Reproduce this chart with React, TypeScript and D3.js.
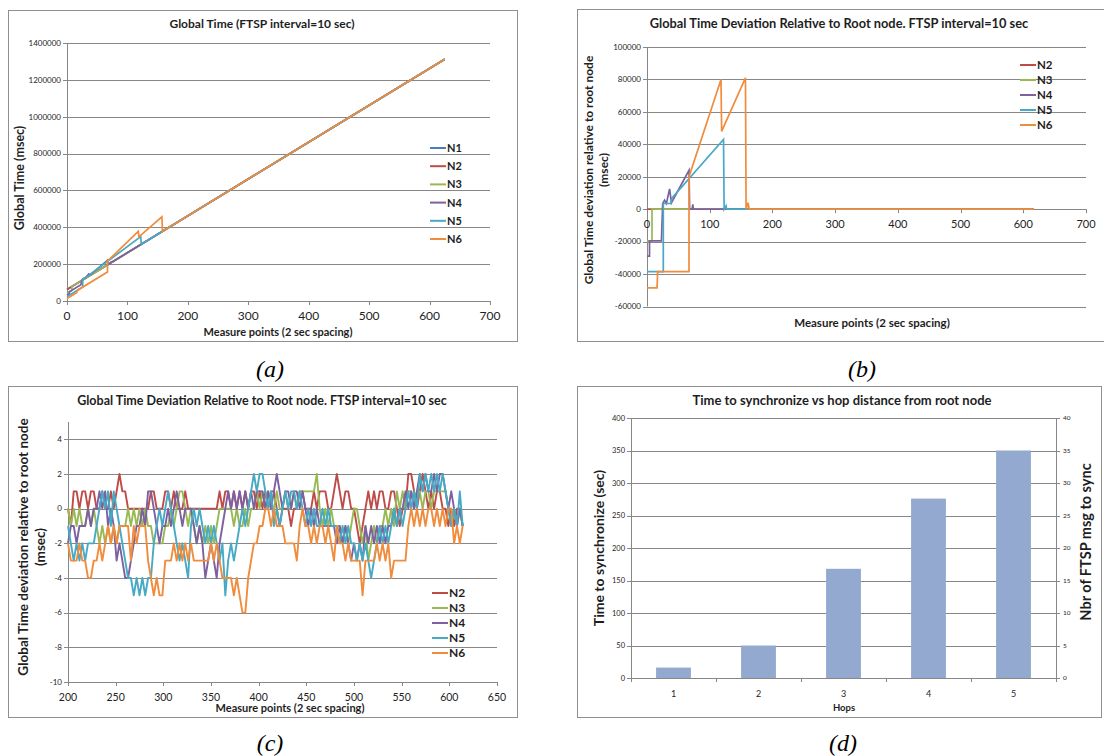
import * as d3 from 'd3'
import React from 'react'

type P = [number, number]

const FONT = 'Lato, "Open Sans", Arial, sans-serif'
const SERIF = '"Liberation Serif", "DejaVu Serif", serif'
const GRID = '#878787'
const BORDER = '#8f8f8f'
const TXT = '#1e1e1e'

const colors: Record<string, string> = {
  N1: '#4A7EBB', N2: '#BE4B48', N3: '#98B954', N4: '#7D60A0', N5: '#46AAC5', N6: '#F08C3C',
}

// (a) global time, [measure point, msec] break points
const gtN1: P[] = [[0, 62000], [625, 1312000]]
const gtN2: P[] = [[0, 62000], [625, 1312000]]
const gtN3: P[] = [[0, 42500], [8, 58500], [8, 78000], [625, 1312000]]
const gtN4: P[] = [[0, 33000], [4, 41000], [4, 50500], [23, 88500], [25, 115500], [28, 123500], [31, 127500], [36, 146500], [39, 144000], [67, 220000], [68, 198000], [72, 206000], [73, 211000], [74, 210000], [625, 1312000]]
const gtN5: P[] = [[0, 23500], [26, 75500], [26, 117500], [38, 141500], [40, 149000], [122, 349000], [123, 308000], [126, 316000], [127, 316000], [625, 1312000]]
const gtN6: P[] = [[0, 13500], [16, 45500], [17, 57500], [67, 157500], [67, 216000], [118, 378000], [119, 348000], [157, 457000], [158, 378000], [161, 388000], [163, 388000], [625, 1312000]]

// (b) deviation to root, [measure point, msec]
const devN2: P[] = [[0, 0], [617, 0]]
const devN3: P[] = [[0, -19500], [8, -19500], [8, 0], [617, 0]]
const devN4: P[] = [[0, -29000], [4, -29000], [4, -19500], [23, -19500], [25, 3500], [28, 5500], [31, 3500], [36, 12500], [39, 4000], [67, 24000], [68, 0], [72, 0], [73, 3000], [74, 0], [617, 0]]
const devN5: P[] = [[0, -38500], [26, -38500], [26, 3500], [38, 3500], [40, 7000], [122, 43000], [123, 0], [126, 2000], [127, 0], [617, 0]]
const devN6: P[] = [[0, -48500], [16, -48500], [17, -38500], [67, -38500], [67, 20000], [118, 80000], [119, 48000], [157, 81000], [158, 0], [161, 4000], [163, 0], [617, 0]]

// (c) deviation (msec) sampled every 3 measure points from 200
const cStart = 200
const cStep = 3
const cN2 = [
  0, -1, 1, 1, 0, 1, 1, 0, 1, 1,
  0, 0, 1, 0, 0, 1, 0, 1, 2, 1,
  1, 0, 0, 0, 0, 0, 0, 0, 0, 1,
  1, 0, 0, 0, 1, 1, 0, 1, 0, 0,
  0, 1, 0, 0, 0, 0, 0, 0, 0, 0,
  0, 0, 0, 1, 0, 1, 1, 0, 1, 0,
  1, 0, 1, 0, 1, 1, 0, 1, 0, 1,
  0, 1, 1, 0, -1, 0, 0, 0, -1, 0,
  0, 1, 1, 0, 0, 0, 1, 0, 1, 1,
  1, 0, 0, 1, 2, 1, 0, 1, 1, 0,
  0, -1, -2, -1, 0, 1, 0, 1, 0, 1,
  1, 0, 0, 1, 1, 0, -1, 0, 0, 2,
  2, 1, 0, 1, 2, 1, 0, 1, 0, 1,
  1, 0, 0, -1, 0, -1, 0, 0, -1]
const cN3 = [
  0, -1, 0, -1, 0, -1, -1, 0, -1, 0,
  -1, -2, -1, -2, -1, -2, -1, -2, -1, -1,
  -1, 0, -1, 0, -1, 0, -1, 0, -1, -1,
  -2, -2, -2, -2, -1, -1, 0, -1, 0, 1,
  1, 0, -1, 0, -1, -2, -1, -2, -1, -2,
  -1, -2, -1, 0, 0, 0, 0, 0, -1, 0,
  -1, -1, 0, -1, 0, 0, 1, 0, 1, 0,
  1, 0, 0, 1, 0, 0, 1, 0, 0, 1,
  0, 1, 1, 1, 1, 1, 1, 2, 0, -1,
  0, -1, 0, -1, -1, -1, -2, -1, -2, -1,
  0, 0, -1, -2, -1, -3, -2, -1, -2, -1,
  -1, 0, -1, 0, -1, 1, 0, 1, 0, 1,
  1, 0, 1, 1, 0, 1, 1, 0, 1, 1,
  1, 1, 1, 0, -1, 0, -1, 0, -1]
const cN4 = [
  -2, -1, -1, -2, -1, -1, -1, 0, -1, 0,
  0, 1, 0, 1, -1, 0, -1, -3, -2, -3,
  -4, -4, -3, -2, -1, -1, 0, -1, 1, 1,
  0, -1, -2, -1, -1, 0, -1, 0, 1, 0,
  -1, 0, 0, 0, -1, -2, -1, -2, -4, -3,
  -2, -3, -4, -2, -1, 0, 1, 0, 1, 0,
  1, 0, 1, 0, 1, 0, 1, 1, 1, 0,
  1, 0, 1, 2, 1, 0, 1, 1, 0, 1,
  1, 0, 1, 0, -1, 0, -1, 0, -1, -1,
  -1, -1, -1, -1, -2, -1, -2, -1, -2, -3,
  -2, -3, -2, -3, -1, -2, -1, -2, -1, -2,
  -1, -2, -1, -1, 0, -1, 0, 0, 1, 0,
  1, 0, 1, 2, 1, 2, 1, 1, 2, 1,
  2, 2, 1, 0, 1, 0, -1, 0, -1]
const cN5 = [
  -1, -2, -3, -2, -3, -2, -3, -2, -2, -2,
  -1, 0, 1, 0, 1, -1, 1, 0, -1, -2,
  -3, -4, -4, -5, -4, -5, -4, -5, -4, -4,
  -2, -1, 0, -1, 0, 1, 0, -1, -2, -3,
  -2, -3, -4, -1, 0, -1, 0, -1, -2, -1,
  -2, -1, -2, -3, -2, -5, -3, -2, -3, -2,
  -1, 0, -1, 0, 1, 2, 1, 2, 2, 1,
  0, 1, -1, 0, -1, 0, 1, 0, 1, 1,
  0, 1, 0, -1, 0, -1, 0, -1, -1, 0,
  -1, 0, -1, -1, -1, -2, -1, -2, -1, -2,
  -2, -3, -2, -3, -2, -3, -4, -3, -2, -1,
  -2, -1, -2, -1, 0, -1, 0, -1, 0, 1,
  0, 1, 0, 2, 1, 2, 1, 2, 1, 2,
  1, 2, 1, 0, -1, 0, -1, 1, -1]
const cN6 = [
  -2, -3, -3, -3, -2, -3, -3, -4, -4, -3,
  -3, -2, -3, -2, -1, -2, -1, -2, -1, -1,
  -1, -1, -3, -1, -2, -1, -1, -1, -3, -4,
  -5, -4, -5, -5, -3, -3, -3, -2, -3, -2,
  -3, -2, -3, -2, -3, -3, -3, -3, -3, -3,
  -2, -3, -2, -3, -4, -4, -4, -4, -5, -4,
  -5, -6, -6, -4, -3, -2, -2, -1, -1, 0,
  0, -1, 0, -1, -1, -1, -2, -2, -2, -2,
  -3, -1, 0, -1, -1, -2, -1, -2, -1, -1,
  -2, -1, -2, -3, -1, -2, -2, -3, -2, -3,
  -3, -3, -3, -5, -3, -3, -3, -3, -2, -3,
  -2, -3, -2, -4, -3, -3, -3, -3, -3, -1,
  0, -1, 0, -1, 0, -1, 0, 0, -1, 0,
  -1, 0, -1, 0, 0, -2, -1, -2, -1]

// (d)
const hops = ['1', '2', '3', '4', '5']
const syncTime = [16, 50, 168, 276, 350]

const ticksAX = [0, 100, 200, 300, 400, 500, 600, 700]
const ticksAY = [0, 200000, 400000, 600000, 800000, 1000000, 1200000, 1400000]
const ticksBY = [-60000, -40000, -20000, 0, 20000, 40000, 60000, 80000, 100000]
const ticksCX = [200, 250, 300, 350, 400, 450, 500, 550, 600, 650]
const ticksCY = [-10, -8, -6, -4, -2, 0, 2, 4]
const ticksDL = [0, 50, 100, 150, 200, 250, 300, 350, 400]
const ticksDR = [0, 5, 10, 15, 20, 25, 30, 35, 40]

const c = (v: number) => Math.round(v) + 0.5

const Legend = ({ x, y, dy, names, size }: { x: number, y: number, dy: number, names: string[], size: number }) => (
  <g>
    {names.map((n, i) => (
      <g key={n}>
        <line x1={x} x2={x + 16} y1={y + i * dy} y2={y + i * dy} stroke={colors[n]} strokeWidth={2} />
        <text x={x + 17} y={y + i * dy} dy='0.36em' fontSize={size} fontWeight='bold' fill={TXT}>{n}</text>
      </g>
    ))}
  </g>
)

const PanelA = () => {
  const x = d3.scaleLinear().domain([0, 700]).range([67, 490])
  const y = d3.scaleLinear().domain([0, 1400000]).range([301, 43])
  const ln = d3.line<P>().x(d => x(d[0])).y(d => y(d[1]))
  const series: [string, P[]][] = [['N1', gtN1], ['N2', gtN2], ['N3', gtN3], ['N4', gtN4], ['N5', gtN5], ['N6', gtN6]]
  return (
    <g>
      <rect x={8.5} y={10.5} width={509} height={331} fill='#fff' stroke={BORDER} />
      <text x={262} y={28} textAnchor='middle' fontSize={12} fontWeight='bold' fill={TXT}>Global Time (FTSP interval=10 sec)</text>
      {ticksAY.map(t => (
        <g key={t}>
          {t > 0 && <line x1={x(0)} x2={x(700)} y1={c(y(t))} y2={c(y(t))} stroke={GRID} />}
          <line x1={x(0) - 4} x2={x(0)} y1={c(y(t))} y2={c(y(t))} stroke={GRID} />
          <text x={x(0) - 6} y={y(t)} dy='0.35em' textAnchor='end' fontSize={8} fill={TXT}>{t}</text>
        </g>
      ))}
      <line x1={c(x(0))} x2={c(x(0))} y1={y(1400000)} y2={y(0)} stroke={GRID} />
      <line x1={x(0)} x2={x(700)} y1={c(y(0))} y2={c(y(0))} stroke={GRID} />
      {ticksAX.map(t => (
        <g key={t}>
          <line x1={c(x(t))} x2={c(x(t))} y1={y(0)} y2={y(0) + 4} stroke={GRID} />
          <text x={x(t)} y={320} textAnchor='middle' fontSize={12} fill={TXT}>{t}</text>
        </g>
      ))}
      {series.map(([n, d]) => <path key={n} d={ln(d) as string} fill='none' stroke={colors[n]} strokeWidth={1.7} />)}
      <text x={278} y={336} textAnchor='middle' fontSize={11} fontWeight='bold' fill={TXT}>Measure points (2 sec spacing)</text>
      <text transform='translate(20,178) rotate(-90)' textAnchor='middle' dy='0.35em' fontSize={12.5} fontWeight='bold' fill={TXT}>Global Time (msec)</text>
      <Legend x={430} y={148} dy={18.2} names={['N1', 'N2', 'N3', 'N4', 'N5', 'N6']} size={11} />
    </g>
  )
}

const PanelB = () => {
  const x = d3.scaleLinear().domain([0, 700]).range([647, 1086])
  const y = d3.scaleLinear().domain([-60000, 100000]).range([306.5, 47])
  const ln = d3.line<P>().x(d => x(d[0])).y(d => y(d[1]))
  const series: [string, P[]][] = [['N2', devN2], ['N3', devN3], ['N4', devN4], ['N5', devN5], ['N6', devN6]]
  return (
    <g>
      <rect x={577.5} y={9.5} width={540} height={332} fill='#fff' stroke={BORDER} />
      <text x={839} y={28} textAnchor='middle' fontSize={12.8} fontWeight='bold' fill={TXT}>Global Time Deviation Relative to Root node. FTSP interval=10 sec</text>
      {ticksBY.map(t => (
        <g key={t}>
          {t !== 0 && <line x1={x(0)} x2={x(700)} y1={c(y(t))} y2={c(y(t))} stroke={GRID} />}
          <line x1={x(0) - 4} x2={x(0)} y1={c(y(t))} y2={c(y(t))} stroke={GRID} />
          <text x={x(0) - 6} y={y(t)} dy='0.35em' textAnchor='end' fontSize={8} fill={TXT}>{t}</text>
        </g>
      ))}
      <line x1={c(x(0))} x2={c(x(0))} y1={y(100000)} y2={y(-60000)} stroke={GRID} />
      <line x1={x(0)} x2={x(700)} y1={c(y(0))} y2={c(y(0))} stroke={GRID} />
      {ticksAX.map(t => (
        <g key={t}>
          <line x1={c(x(t))} x2={c(x(t))} y1={y(0)} y2={y(0) + 4} stroke={GRID} />
          <text x={x(t)} y={228} textAnchor='middle' fontSize={11} fill={TXT}>{t}</text>
        </g>
      ))}
      {series.map(([n, d]) => <path key={n} d={ln(d) as string} fill='none' stroke={colors[n]} strokeWidth={1.7} />)}
      <text x={872} y={327} textAnchor='middle' fontSize={11.5} fontWeight='bold' fill={TXT}>Measure points (2 sec spacing)</text>
      <text transform='translate(589,170) rotate(-90)' textAnchor='middle' dy='0.35em' fontSize={12} fontWeight='bold' fill={TXT}>Global Time deviation  relative to root node</text>
      <text transform='translate(604,170) rotate(-90)' textAnchor='middle' dy='0.35em' fontSize={12} fontWeight='bold' fill={TXT}>(msec)</text>
      <Legend x={1020} y={65} dy={15} names={['N2', 'N3', 'N4', 'N5', 'N6']} size={11.5} />
    </g>
  )
}

const PanelC = () => {
  const x = d3.scaleLinear().domain([200, 650]).range([68, 497])
  const y = d3.scaleLinear().domain([-10, 5]).range([682, 422])
  const ln = d3.line<number>().x((_, i) => x(cStart + i * cStep)).y(d => y(d))
  const series: [string, number[]][] = [['N2', cN2], ['N3', cN3], ['N4', cN4], ['N5', cN5], ['N6', cN6]]
  return (
    <g>
      <rect x={8.5} y={386.5} width={509} height={331} fill='#fff' stroke={BORDER} />
      <text x={262} y={405} textAnchor='middle' fontSize={12.5} fontWeight='bold' fill={TXT}>Global Time Deviation Relative to Root node. FTSP interval=10 sec</text>
      {ticksCY.map(t => (
        <g key={t}>
          {t > -10 && <line x1={x(200)} x2={x(650)} y1={c(y(t))} y2={c(y(t))} stroke={GRID} />}
          <line x1={x(200) - 4} x2={x(200)} y1={c(y(t))} y2={c(y(t))} stroke={GRID} />
          <text x={x(200) - 6} y={y(t)} dy='0.35em' textAnchor='end' fontSize={8} fill={TXT}>{t}</text>
        </g>
      ))}
      <line x1={c(x(200))} x2={c(x(200))} y1={y(5)} y2={y(-10)} stroke={GRID} />
      <line x1={x(200)} x2={x(650)} y1={c(y(-10))} y2={c(y(-10))} stroke={GRID} />
      {ticksCX.map(t => (
        <g key={t}>
          <line x1={c(x(t))} x2={c(x(t))} y1={y(-10)} y2={y(-10) + 4} stroke={GRID} />
          <text x={x(t)} y={701} textAnchor='middle' fontSize={10.5} fill={TXT}>{t}</text>
        </g>
      ))}
      {series.map(([n, d]) => <path key={n} d={ln(d) as string} fill='none' stroke={colors[n]} strokeWidth={1.9} strokeLinejoin='round' />)}
      <text x={290} y={712} textAnchor='middle' fontSize={11} fontWeight='bold' fill={TXT}>Measure points (2 sec spacing)</text>
      <text transform='translate(23,547) rotate(-90)' textAnchor='middle' dy='0.35em' fontSize={13.5} fontWeight='bold' fill={TXT}>Global Time deviation relative to root node</text>
      <text transform='translate(40,547) rotate(-90)' textAnchor='middle' dy='0.35em' fontSize={13.5} fontWeight='bold' fill={TXT}>(msec)</text>
      <Legend x={432} y={593} dy={15} names={['N2', 'N3', 'N4', 'N5', 'N6']} size={12} />
    </g>
  )
}

const PanelD = () => {
  const x = d3.scaleBand<string>().domain(hops).range([631, 1056]).paddingInner(0.59).paddingOuter(0.295)
  const y = d3.scaleLinear().domain([0, 400]).range([678, 418])
  const y2 = d3.scaleLinear().domain([0, 40]).range([678, 418])
  const step = x.step()
  return (
    <g>
      <rect x={577.5} y={386.5} width={524} height={331} fill='#fff' stroke={BORDER} />
      <text x={842} y={405} textAnchor='middle' fontSize={13} fontWeight='bold' fill={TXT}>Time to synchronize vs hop distance from root node</text>
      {ticksDL.map(t => (
        <g key={t}>
          {t > 0 && <line x1={631} x2={1056} y1={c(y(t))} y2={c(y(t))} stroke={GRID} />}
          <line x1={627} x2={631} y1={c(y(t))} y2={c(y(t))} stroke={GRID} />
          <text x={625} y={y(t)} dy='0.35em' textAnchor='end' fontSize={7.5} fill={TXT}>{t}</text>
        </g>
      ))}
      {ticksDR.map(t => (
        <g key={t}>
          <line x1={1056} x2={1060} y1={c(y2(t))} y2={c(y2(t))} stroke={GRID} />
          <text x={1063} y={y2(t)} dy='0.35em' fontSize={6.5} fill={TXT}>{t}</text>
        </g>
      ))}
      {hops.map((h, i) => (
        <rect key={h} x={x(h)} y={y(syncTime[i])} width={x.bandwidth()} height={y(0) - y(syncTime[i])} fill='#94A9D0' />
      ))}
      <line x1={c(631)} x2={c(631)} y1={418} y2={678} stroke={GRID} />
      <line x1={c(1056)} x2={c(1056)} y1={418} y2={678} stroke={GRID} />
      <line x1={631} x2={1056} y1={c(y(0))} y2={c(y(0))} stroke={GRID} />
      {d3.range(hops.length + 1).map(i => (
        <line key={i} x1={c(631 + i * step)} x2={c(631 + i * step)} y1={678} y2={682} stroke={GRID} />
      ))}
      {hops.map(h => (
        <text key={h} x={(x(h) as number) + x.bandwidth() / 2} y={697} textAnchor='middle' fontSize={9} fill={TXT}>{h}</text>
      ))}
      <text x={844} y={711} textAnchor='middle' fontSize={9.5} fontWeight='bold' fill={TXT}>Hops</text>
      <text transform='translate(599,548) rotate(-90)' textAnchor='middle' dy='0.35em' fontSize={14} fontWeight='bold' fill={TXT}>Time to synchronize (sec)</text>
      <text transform='translate(1086,542) rotate(-90)' textAnchor='middle' dy='0.35em' fontSize={14.5} fontWeight='bold' fill={TXT}>Nbr of FTSP msg to sync</text>
    </g>
  )
}

const captions = [['(a)', 270, 377], ['(b)', 862, 377], ['(c)', 270, 751], ['(d)', 843, 751]] as const

export default function App() {
  return (
    <svg width={1104} height={756} style={{ position: 'absolute', left: 0, top: 0 }} fontFamily={FONT}>
      <rect width={1104} height={756} fill='#fff' />
      <PanelA />
      <PanelB />
      <PanelC />
      <PanelD />
      {captions.map(([t, cx, cy]) => (
        <text key={t} x={cx} y={cy} textAnchor='middle' fontFamily={SERIF} fontStyle='italic' fontSize={24} fill='#000'>{t}</text>
      ))}
    </svg>
  )
}
